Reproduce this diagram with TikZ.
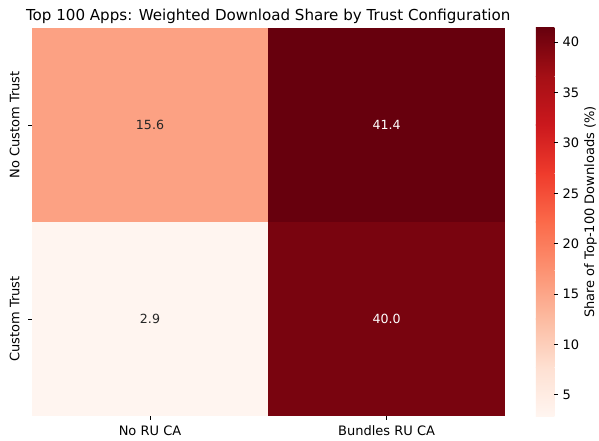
\documentclass[tikz,border=0pt]{standalone}
\usepackage{fontspec}
\setmainfont{DejaVu Sans}
% Reds colour map stops
\definecolor{r0}{RGB}{255,245,240}
\definecolor{r1}{RGB}{254,224,210}
\definecolor{r2}{RGB}{252,187,161}
\definecolor{r3}{RGB}{252,146,114}
\definecolor{r4}{RGB}{251,106,74}
\definecolor{r5}{RGB}{239,59,44}
\definecolor{r6}{RGB}{203,24,29}
\definecolor{r7}{RGB}{165,15,21}
\definecolor{r8}{RGB}{103,0,13}
% cell colours
\definecolor{cellA}{RGB}{252,161,131}
\definecolor{cellB}{RGB}{103,0,13}
\definecolor{cellC}{RGB}{255,245,240}
\definecolor{cellD}{RGB}{121,4,15}
\definecolor{darktext}{RGB}{38,38,38}
\begin{document}
\begin{tikzpicture}[x=1pt,y=-1pt,
  ticklab/.style={font=\fontsize{13}{15}\selectfont, inner sep=0pt},
  celllab/.style={font=\fontsize{12.6}{15}\selectfont, inner sep=0pt},
  tickmark/.style={line width=0.8pt, draw=black}]
\useasboundingbox (0,0) rectangle (599,440);
\fill[white] (0,0) rectangle (599,440);

% heatmap cells
\fill[cellA] (31.5,28) rectangle (268.2,222);
\fill[cellB] (268.2,28) rectangle (505,222);
\fill[cellC] (31.5,222) rectangle (268.2,416);
\fill[cellD] (268.2,222) rectangle (505,416);

% cell annotations
\node[celllab, text=darktext] (vA) at (150,125) {15.6};
\node[celllab, text=white] (vB) at (386.6,125) {41.4};
\node[celllab, text=darktext] (vC) at (150,319) {2.9};
\node[celllab, text=white] (vD) at (386.6,319) {40.0};

% title
\node[font=\fontsize{15.1}{18}\selectfont, anchor=base, inner sep=0pt] (title) at (268.2,20) {Top 100 Apps: Weighted Download Share by Trust Configuration};

% x ticks and labels
\coordinate (xt1) at (150,416);
\coordinate (xt2) at (386.6,416);
\draw[tickmark] (xt1) -- ++(0,3.5);
\draw[tickmark] (xt2) -- ++(0,3.5);
\node[ticklab, anchor=base] (xl1) at (150,435.3) {No RU CA};
\node[ticklab, anchor=base] (xl2) at (386.6,435.3) {Bundles RU CA};

% y ticks and labels
\coordinate (yt1) at (31.5,125);
\coordinate (yt2) at (31.5,319);
\draw[tickmark] (yt1) -- ++(-3.5,0);
\draw[tickmark] (yt2) -- ++(-3.5,0);
\node[ticklab, rotate=90, anchor=base] (yl1) at (19.3,125) {No Custom Trust};
\node[ticklab, rotate=90, anchor=base] (yl2) at (19.3,319) {Custom Trust};

% colour bar (value 2.9 at bottom, 41.4 at top)
\foreach \i [evaluate=\i as \j using int(\i+1)] in {0,...,7}{
  \pgfmathsetmacro{\ybot}{416-\i*48.5}
  \pgfmathsetmacro{\ytop}{416-(\i+1)*48.5-0.3}
  \shade[bottom color=r\i, top color=r\j] (535.8,\ybot) rectangle (554.4,\ytop);
}
\foreach \v in {5,10,...,40}{
  \pgfmathsetmacro{\yy}{416-(\v-2.9)/38.5*388}
  \draw[tickmark] (554.4,\yy) -- (558,\yy);
  \node[ticklab, anchor=west] at (562.3,\yy) {\v};
}
\node[ticklab, rotate=90, anchor=base] (cbl) at (594,212) {Share of Top-100 Downloads (\%)};
\end{tikzpicture}
\end{document}
